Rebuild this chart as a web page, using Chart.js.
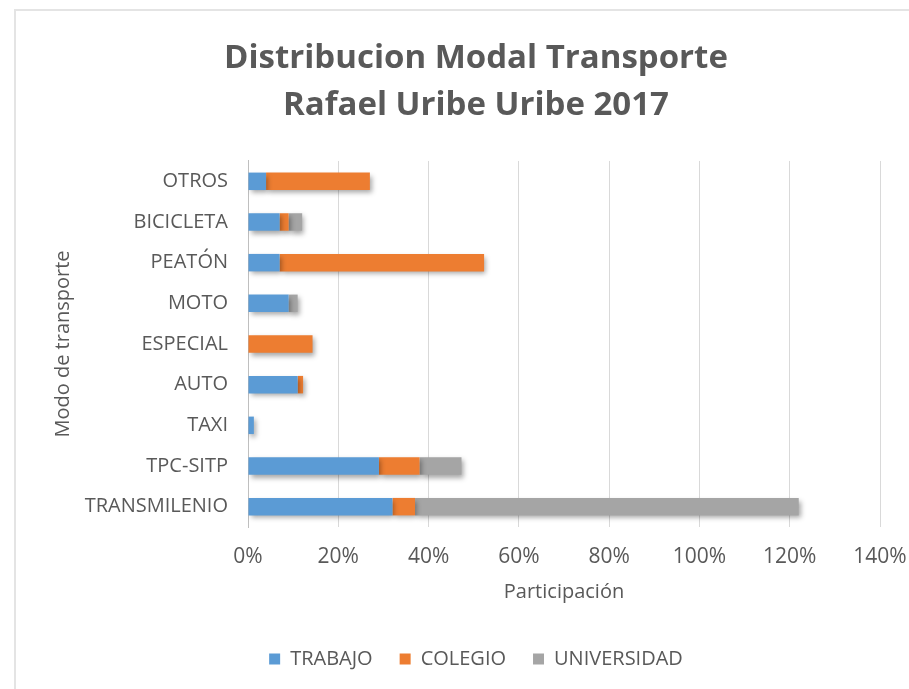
<!DOCTYPE html>
<html>
<head>
<meta charset="utf-8">
<title>Distribucion Modal Transporte</title>
<script src="https://cdn.jsdelivr.net/npm/chart.js@4/dist/chart.umd.min.js"></script>
<style>
    html, body { margin: 0; padding: 0; background: #fff; }
    #frame {
        position: absolute; left: 14px; top: 9px; right: 0; bottom: 0;
        border-top: 2px solid #e4e4e4; border-left: 2px solid #e4e4e4;
    }
    #box { position: absolute; left: 0; top: 0; width: 909px; height: 689px; }
</style>
</head>
<body>
<div id="frame"></div>
<div id="box"><canvas id="modalChart"></canvas></div>
<script>
// categories top to bottom
const modos = ['OTROS', 'BICICLETA', 'PEATÓN', 'MOTO', 'ESPECIAL', 'AUTO', 'TAXI', 'TPC-SITP', 'TRANSMILENIO'];

// participation in % per series
const trabajo     = [4,  7, 7,    9, 0,    11,  1.3, 29,  32];
const colegio     = [23, 2, 45.3, 0, 14.3, 1.2, 0,   9,   5];
const universidad = [0,  3, 0,    2, 0,    0,   0,   9.3, 85];

const xTicks = [0, 20, 40, 60, 80, 100, 120, 140];

const textColor = '#595959';
const fontFamily = '"Open Sans", Lato, sans-serif';

// Excel-like soft shadow under the bars
const barShadow = {
    id: 'barShadow',
    beforeDatasetsDraw(chart) {
        const c = chart.ctx;
        c.save();
        c.shadowColor = 'rgba(0,0,0,0.35)';
        c.shadowBlur = 5;
        c.shadowOffsetX = 2;
        c.shadowOffsetY = 3;
    },
    afterDatasetsDraw(chart) {
        chart.ctx.restore();
    }
};

const ctx = document.getElementById('modalChart').getContext('2d');

new Chart(ctx, {
    type: 'bar',
    data: {
        labels: modos,
        datasets: [
            { label: 'TRABAJO', data: trabajo, backgroundColor: '#5b9bd5' },
            { label: 'COLEGIO', data: colegio, backgroundColor: '#ed7d31' },
            { label: 'UNIVERSIDAD', data: universidad, backgroundColor: '#a5a5a5' }
        ]
    },
    options: {
        indexAxis: 'y',
        responsive: true,
        maintainAspectRatio: false,
        animation: false,
        layout: { padding: { left: 72, right: 29, top: 0, bottom: 10 } },
        datasets: {
            bar: { barPercentage: 0.43, categoryPercentage: 1, borderWidth: 0 }
        },
        plugins: {
            title: {
                display: true,
                text: ['Distribucion Modal Transporte', 'Rafael Uribe Uribe 2017'],
                color: textColor,
                font: { family: fontFamily, size: 33, weight: 'bold', lineHeight: 1.424 },
                padding: { top: 35.5, bottom: 31.5 }
            },
            legend: {
                position: 'bottom',
                labels: {
                    color: textColor,
                    font: { family: fontFamily, size: 20 },
                    boxWidth: 11,
                    boxHeight: 11,
                    padding: 27
                }
            },
            tooltip: { enabled: false }
        },
        scales: {
            x: {
                stacked: true,
                min: 0,
                max: 140,
                afterBuildTicks: axis => { axis.ticks = xTicks.map(v => ({ value: v })); },
                afterFit: axis => {
                    axis.height = 95;
                    axis.paddingLeft = 0;
                    axis.paddingRight = 0;
                },
                ticks: {
                    color: textColor,
                    font: { family: fontFamily, size: 21 },
                    padding: 17,
                    maxRotation: 0,
                    callback: v => v + '%'
                },
                grid: { color: '#d9d9d9', drawTicks: false },
                border: { display: false },
                title: {
                    display: true,
                    text: 'Participación',
                    color: textColor,
                    font: { family: fontFamily, size: 20 },
                    padding: { top: 0, bottom: 18 }
                }
            },
            y: {
                stacked: true,
                afterFit: axis => { axis.width = 176; },
                ticks: {
                    color: textColor,
                    font: { family: fontFamily, size: 20 },
                    padding: 20
                },
                grid: { display: false, drawTicks: false },
                border: { display: true, color: '#bfbfbf', width: 1 },
                title: {
                    display: true,
                    text: 'Modo de transporte',
                    color: textColor,
                    font: { family: fontFamily, size: 20 },
                    padding: { top: -21, bottom: 0 }
                }
            }
        }
    },
    plugins: [barShadow]
});
</script>
</body>
</html>
